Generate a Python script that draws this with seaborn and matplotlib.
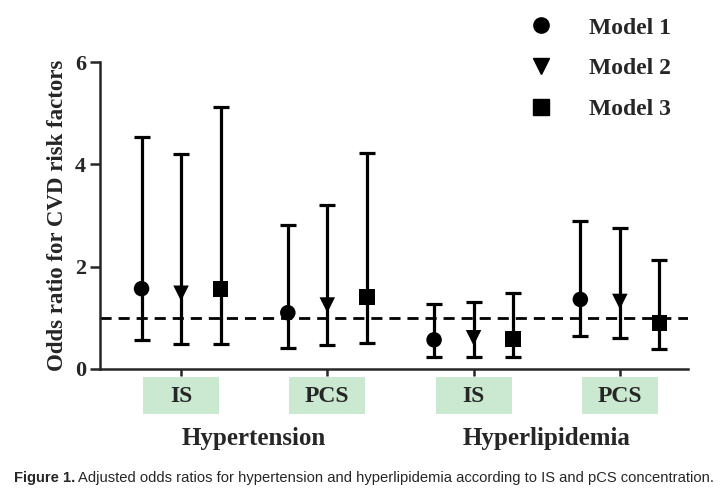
import numpy as np
import pandas as pd
import matplotlib
matplotlib.use('Agg')
import matplotlib.pyplot as plt
import matplotlib.transforms as mtransforms
from matplotlib.patches import Rectangle
from matplotlib.lines import Line2D
import seaborn as sns

# data
outcomes = ['Hypertension', 'Hyperlipidemia']
toxins = ['IS', 'PCS']
models = ['Model 1', 'Model 2', 'Model 3']

# order: HT-IS, HT-PCS, HL-IS, HL-PCS
or_model1 = [1.57, 1.10, 0.57, 1.36]
lo_model1 = [0.57, 0.41, 0.23, 0.65]
hi_model1 = [4.54, 2.81, 1.28, 2.90]

or_model2 = [1.48, 1.25, 0.61, 1.32]
lo_model2 = [0.49, 0.47, 0.23, 0.60]
hi_model2 = [4.21, 3.20, 1.31, 2.75]

or_model3 = [1.56, 1.41, 0.59, 0.90]
lo_model3 = [0.49, 0.50, 0.23, 0.39]
hi_model3 = [5.13, 4.23, 1.49, 2.14]

sns.set_style('ticks')
plt.rcParams['font.family'] = ['Liberation Serif', 'DejaVu Serif']

rows = []
for m, (est, lo, hi) in zip(models, [(or_model1, lo_model1, hi_model1),
                                    (or_model2, lo_model2, hi_model2),
                                    (or_model3, lo_model3, hi_model3)]):
    for g in range(4):
        rows.append({'group': g, 'model': m, 'odds': est[g], 'lo': lo[g], 'hi': hi[g]})
df = pd.DataFrame(rows)
offset = {'Model 1': -0.27, 'Model 2': 0.0, 'Model 3': 0.27}
df['x'] = df['group'] + df['model'].map(offset)

fig = plt.figure(figsize=(7.21, 4.95), dpi=100)
ax = fig.add_axes([100 / 721, 1 - 369 / 495, (688 - 100) / 721, (369 - 62) / 495])

ax.axhline(1, color='black', lw=2, ls=(0, (4, 2.5)), zorder=1)
ax.errorbar(df['x'], df['odds'],
            yerr=[df['odds'] - df['lo'], df['hi'] - df['odds']],
            fmt='none', ecolor='black', elinewidth=2.3, capsize=5.5,
            capthick=2.3, zorder=2)

marker_map = {'Model 1': 'o', 'Model 2': 'v', 'Model 3': 's'}
sns.scatterplot(data=df, x='x', y='odds', style='model', markers=marker_map,
                color='black', s=125, linewidth=0, legend=False, ax=ax, zorder=3)

ax.set_xlim(-0.554, 3.466)
ax.set_ylim(0, 6)
ax.set_yticks([0, 2, 4, 6])
ax.set_xticks([0, 1, 2, 3])
ax.set_xticklabels([])
ax.set_xlabel('')
ax.set_ylabel('Odds ratio for CVD risk factors', fontsize=16.5, fontweight='bold', labelpad=5)
for lab in ax.get_yticklabels():
    lab.set_fontweight('bold')
    lab.set_fontsize(16)
ax.tick_params(axis='y', length=7, width=1.8, pad=3)
ax.tick_params(axis='x', length=5, width=1.8)
sns.despine(ax=ax)
for s in ['left', 'bottom']:
    ax.spines[s].set_linewidth(1.8)

# green category boxes under the axis
trans = mtransforms.blended_transform_factory(ax.transData, ax.transAxes)
for g in range(4):
    ax.add_patch(Rectangle((g - 0.26, -0.147), 0.52, 0.121, transform=trans,
                           facecolor='#cbe8d0', edgecolor='none', clip_on=False))
    ax.text(g, -0.088, toxins[g % 2], transform=trans, ha='center', va='center',
            fontsize=17, fontweight='bold')
for i, name in enumerate(outcomes):
    ax.text(2 * i + 0.5, -0.228, name, transform=trans, ha='center', va='center',
            fontsize=18, fontweight='bold')

handles = [Line2D([], [], ls='none', marker=marker_map[m], color='black', markersize=11)
           for m in models]
fig.legend(handles, models, loc='upper left', bbox_to_anchor=(523 / 721, 1 - 17 / 495),
           frameon=False, borderpad=0, borderaxespad=0, handlelength=1.5,
           handletextpad=1.3, labelspacing=0.82,
           prop={'family': 'Liberation Serif', 'weight': 'bold', 'size': 17})

# caption
cap_font = ['Liberation Sans', 'DejaVu Sans']
t1 = fig.text(14 / 721, 1 - 478 / 495, 'Figure 1.', fontsize=10.6, fontweight='bold',
              family=cap_font, va='center', ha='left')
renderer = fig.canvas.get_renderer()
bb = t1.get_window_extent(renderer=renderer)
fig.text((bb.x1 + 3) / 721, 1 - 478 / 495,
         'Adjusted odds ratios for hypertension and hyperlipidemia according to IS and pCS concentration.',
         fontsize=10.6, family=cap_font, va='center', ha='left')

fig.savefig('out.png', dpi=100)
